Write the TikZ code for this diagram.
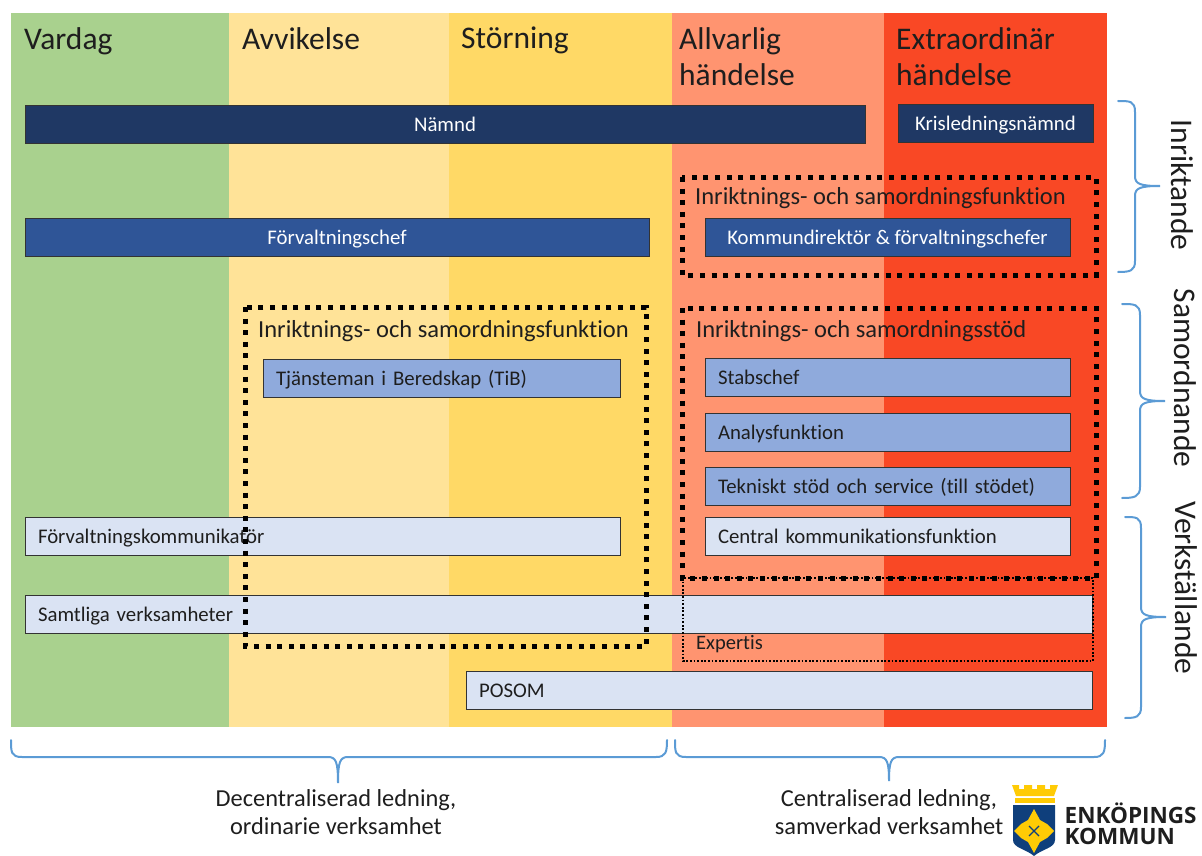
\documentclass[tikz,border=0pt]{standalone}
\usepackage{fontspec}
\setmainfont[Ligatures=NoCommon]{Carlito}
\newfontfamily\logofont{Open Sans}
\usetikzlibrary{positioning}
\definecolor{bandgreen}{HTML}{A9D18E}
\definecolor{bandpale}{HTML}{FFE398}
\definecolor{bandyellow}{HTML}{FFD966}
\definecolor{bandsalmon}{HTML}{FF9470}
\definecolor{bandred}{HTML}{F94825}
\definecolor{bardark}{HTML}{1F3864}
\definecolor{barmid}{HTML}{2F5597}
\definecolor{barsoft}{HTML}{8FAADC}
\definecolor{barlight}{HTML}{DAE3F3}
\definecolor{bracecol}{HTML}{5B9BD5}
\definecolor{inkcol}{HTML}{1E1E1E}
\definecolor{logogold}{HTML}{FFCB05}
\definecolor{logoblue}{HTML}{0F3F7C}
\tikzset{
      barcenter/.style = {anchor=west, draw=black!80, line width=1pt, minimum width=#1, minimum height=38pt, inner sep=0pt, outer sep=0pt, text height=16pt, text depth=2pt, text=white, font=\fontsize{20.8}{22}\selectfont},
      barleft/.style = {anchor=west, draw=black!80, line width=1pt, text width=#1-26pt, inner xsep=13pt, inner ysep=0pt, minimum height=38pt, outer sep=0pt, text height=16pt, text depth=2pt, align=left, text=inkcol, font=\fontsize{20.8}{22}\selectfont},
      heading/.style = {anchor=north west, inner sep=0pt, align=left, text=inkcol, font=\fontsize{31.5}{36}\selectfont},
      sidelabel/.style = {rotate=-90, inner sep=0pt, text=inkcol, font=\fontsize{31.5}{36}\selectfont},
      boxtitle/.style = {anchor=west, inner sep=0pt, text=inkcol, font=\fontsize{24.5}{26}\selectfont},
      footnote/.style = {inner sep=0pt, align=center, text=inkcol, font=\fontsize{24.4}{28}\selectfont},
      thickdots/.style = {black, line width=5pt, dash pattern=on 5pt off 6.6pt},
      thindots/.style = {black, line width=1.8pt, dash pattern=on 1.8pt off 1.8pt},
      bracket/.style = {bracecol, line width=2pt, line cap=round},
    }
\begin{document}
\begin{tikzpicture}[x=1pt,y=-1pt]
        \useasboundingbox (0,0) rectangle (1202,856);
        % severity bands
        \fill[bandgreen] (11,13) rectangle (229,727);
        \fill[bandpale] (229,13) rectangle (449,727);
        \fill[bandyellow] (449,13) rectangle (672,727);
        \fill[bandsalmon] (672,13) rectangle (884,727);
        \fill[bandred] (884,13) rectangle (1107,727);

        \node[heading] (vardag) at (24,27) {Vardag};
        \node[heading] (avvikelse) at (242,27) {Avvikelse};
        \node[heading] (storning) at (461,27) {Störning};
        \node[heading] (allvarlig) at (679,27) {Allvarlig\\händelse};
        \node[heading] (extra) at (896,27) {Extraordinär\\händelse};

        % bars
        \node[barcenter=840pt, fill=bardark] (namnd) at (25,124.5) {Nämnd};
        \node[barcenter=195pt, fill=bardark] (kris) at (898,124) {Krisledningsnämnd};
        \node[barcenter=624pt, fill=barmid] (forvchef) at (25,237) {Förvaltningschef};
        \node[barcenter=365pt, fill=barmid] (direktor) at (705,237) {Kommundirektör \& förvaltningschefer};
        \node[barleft=357pt, fill=barsoft] (tib) at (263,378) {Tjänsteman i Beredskap (TiB)};
        \node[barleft=365pt, fill=barsoft] (stab) at (705,377) {Stabschef};
        \node[barleft=365pt, fill=barsoft] (analys) at (705,432) {Analysfunktion};
        \node[barleft=365pt, fill=barsoft] (teknik) at (705,486) {Tekniskt stöd och service (till stödet)};
        \node[barleft=365pt, fill=barlight] (central) at (705,536.5) {Central kommunikationsfunktion};
        \node[barleft=595pt, fill=barlight] (forvkom) at (25,536.5) {Förvaltningskommunikatör};
        \node[barleft=1067pt, fill=barlight] (samtliga) at (25,614) {Samtliga verksamheter};
        \node[barleft=626pt, fill=barlight] (posom) at (466,690.5) {POSOM};

        % dotted frames
        \draw[thickdots] (245,307) rectangle (646,646);
        \draw[thickdots] (682,177) rectangle (1096,275);
        \draw[thickdots] (682,308) rectangle (1096,578);
        \draw[thindots] (683,578) rectangle (1093,661);
        \node[boxtitle] (titleleft) at (258,331) {Inriktnings- och samordningsfunktion};
        \node[boxtitle] (titletop) at (695,198) {Inriktnings- och samordningsfunktion};
        \node[boxtitle] (titlestod) at (696,331) {Inriktnings- och samordningsstöd};
        \node[boxtitle, font=\fontsize{20.5}{22}\selectfont] (expertis) at (696,644) {Expertis};

        % braces
        \draw[bracket] (1118,101) .. controls (1130,101) and (1135,101) .. (1135,112) -- (1135,176) .. controls (1135,184) and (1140,186) .. (1160,186) .. controls (1140,186) and (1135,188) .. (1135,196) -- (1135,261) .. controls (1135,271) and (1130,272) .. (1118,272);
        \draw[bracket] (1122,304) .. controls (1134,304) and (1140,304) .. (1140,315) -- (1140,391) .. controls (1140,399) and (1145,401) .. (1165,401) .. controls (1145,401) and (1140,403) .. (1140,411) -- (1140,487) .. controls (1140,497) and (1134,498) .. (1122,498);
        \draw[bracket] (1125,517) .. controls (1136,517) and (1141,517) .. (1141,528) -- (1141,607) .. controls (1141,615) and (1146,617) .. (1166,617) .. controls (1146,617) and (1141,619) .. (1141,627) -- (1141,707) .. controls (1141,717) and (1136,718) .. (1125,718);
        \draw[bracket] (11,740) .. controls (11,752) and (11,757) .. (22,757) -- (328,757) .. controls (336,757) and (338,762) .. (338,783) .. controls (338,762) and (340,757) .. (348,757) -- (656,757) .. controls (666,757) and (667,752) .. (667,740);
        \draw[bracket] (675,740) .. controls (675,752) and (675,757) .. (686,757) -- (879,757) .. controls (887,757) and (889,762) .. (889,781) .. controls (889,762) and (891,757) .. (899,757) -- (1094,757) .. controls (1104,757) and (1105,752) .. (1105,740);

        \node[sidelabel] (inriktande) at (1182,185) {Inriktande};
        \node[sidelabel] (samordnande) at (1185,378) {Samordnande};
        \node[sidelabel] (verkstallande) at (1186,588) {Verkställande};
        \node[footnote] (decentral) at (336,812) {Decentraliserad ledning,\\ordinarie verksamhet};
        \node[footnote] (central2) at (889,812) {Centraliserad ledning,\\samverkad verksamhet};

        % logo
        \fill[logogold] (1012,785) -- (1019,785) -- (1019,789) -- (1024,789) -- (1024,785) -- (1032,785) -- (1032,789) -- (1037,789) -- (1037,785) -- (1045,785) -- (1045,789) -- (1050,789) -- (1050,785) -- (1058,785) -- (1054,796) -- (1016,796) -- cycle;
        \fill[logogold] (1015,798) rectangle (1055,803);
        \fill[logoblue] (1013,805) -- (1055,805) -- (1055,840) .. controls (1055,848) and (1042,849) .. (1034,856) .. controls (1026,849) and (1013,848) .. (1013,840) -- cycle;
        \fill[logogold] (1034,809) -- (1040,820) -- (1047,824) -- (1054,831) -- (1047,838) -- (1040,842) -- (1034,853) -- (1028,842) -- (1021,838) -- (1014,831) -- (1021,824) -- (1028,820) -- cycle;
        \draw[logoblue, line width=1.2pt] (1029,826) -- (1039,836) (1039,826) -- (1029,836);
        \node[anchor=west, inner sep=0pt, text=inkcol, font=\logofont\bfseries\fontsize{22.5}{24}\selectfont] (enkoping) at (1064.5,813.5) {ENKÖPINGS};
        \node[anchor=west, inner sep=0pt, text=inkcol, font=\logofont\bfseries\fontsize{22.5}{24}\selectfont] (kommun) at (1064.5,836.5) {KOMMUN};
\end{tikzpicture}
\end{document}
